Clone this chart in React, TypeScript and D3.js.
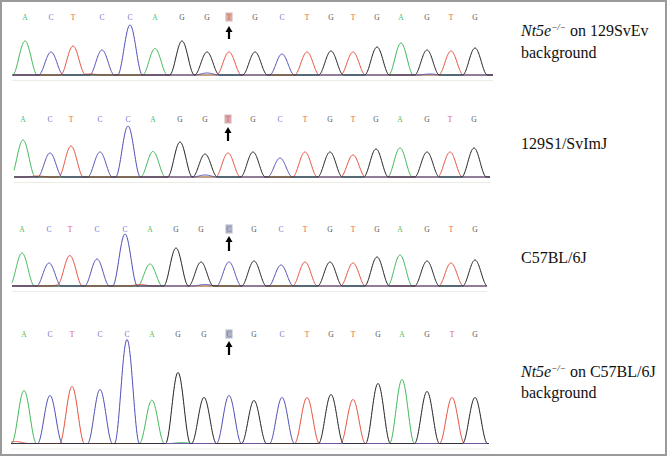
import React from 'react';
import * as d3 from 'd3';

// ---- data ----
const SEQ_MUT = ['A','C','T','C','C','A','G','G','T','G','C','T','G','T','G','A','G','T','G'];
const SEQ_WT  = ['A','C','T','C','C','A','G','G','C','G','C','T','G','T','G','A','G','T','G'];
const SNP_INDEX = 8;

// scan positions of each called base
const POS_1 = [25,51,73,102,130,155,182,207,229,255,282,307,331,353,377,401,427,451,475];
const POS_2 = [23,50,71,100,128,153,180,205,228,253,280,305,330,353,376,400,427,450,474];
const POS_3 = [22,49,70,97,125,150,176,201,229,254,281,305,330,353,377,400,427,451,475];
const POS_4 = [24,50,72,100,127,152,178,204,229,254,282,307,331,353,378,402,427,452,475];

// peak signal intensities
const H_1 = [34,23,29,25,50,25,34,23,23,23,21,23,24,23,28,32,25,24,27];
const H_2 = [37,24,31,25,51,24,35,23,24,25,19,25,25,22,28,29,25,25,29];
const H_3 = [33,23,30,27,52,21,38,24,24,25,21,24,24,23,29,31,25,23,26];
const H_4 = [53,48,57,54,104,41,71,46,48,43,46,46,49,44,60,64,52,46,46];

// small background signal bumps: [base, scan, intensity]
const MINOR_1: [string, number, number][] = [['C',207,2],['A',155,1.5],['T',90,1],['C',430,1]];
const MINOR_2: [string, number, number][] = [['C',205,2],['A',153,1.5],['T',38,1]];
const MINOR_3: [string, number, number][] = [['T',62,1.5],['A',150,1],['T',140,1.5],['C',205,1.5]];
const MINOR_4: [string, number, number][] = [['A',150,2.5],['T',16,2],['A',182,1]];

const LABEL_1 = ['Nt5e', '−/−', ' on 129SvEv', 'background'];
const LABEL_2 = ['129S1/SvImJ'];
const LABEL_3 = ['C57BL/6J'];
const LABEL_4 = ['Nt5e', '−/−', ' on C57BL/6J', 'background'];

const COLORS: Record<string, string> = { A: '#3fb95a', C: '#4f4fb8', G: '#222222', T: '#e8503c' };
const LETTER_COLORS: Record<string, string> = { A: '#4dbb5f', C: '#7373c8', G: '#555555', T: '#e05a4a' };
const HILITE: Record<string, string> = { T: '#d4b0b0', C: '#b0b5c3' };

interface Panel {
  seq: string[]; pos: number[]; h: number[]; minor: [string, number, number][];
  label: string[]; base: number; letterY: number; arrow: [number, number];
  trace: [number, number]; labelY: number[];
}

const PANELS: Panel[] = [
  { seq: SEQ_MUT, pos: POS_1, h: H_1, minor: MINOR_1, label: LABEL_1, base: 75, letterY: 20, arrow: [26, 39], trace: [12.5, 493], labelY: [36, 58] },
  { seq: SEQ_MUT, pos: POS_2, h: H_2, minor: MINOR_2, label: LABEL_2, base: 177, letterY: 122, arrow: [127, 141], trace: [14, 490], labelY: [149] },
  { seq: SEQ_WT, pos: POS_3, h: H_3, minor: MINOR_3, label: LABEL_3, base: 286, letterY: 232, arrow: [236, 251], trace: [12, 487], labelY: [263] },
  { seq: SEQ_WT, pos: POS_4, h: H_4, minor: MINOR_4, label: LABEL_4, base: 443.5, letterY: 337, arrow: [341, 355], trace: [11, 489], labelY: [377, 398] },
];

const HALF = 12.5;
const shape = (d: number) => (Math.abs(d) >= HALF ? 0 : Math.pow(Math.cos((Math.PI * d) / (2 * HALF)), 2));

function traces(p: Panel) {
  const x = d3.scaleLinear().domain([0, 668]).range([0, 668]);
  const y = d3.scaleLinear().domain([0, 100]).range([p.base, p.base - 100]);
  const order = ['A', 'T', 'C', 'G'];
  const scans = d3.range(p.trace[0], p.trace[1] + 0.01, 0.5);
  return order.map((ch) => {
    const peaks: [number, number][] = [];
    p.seq.forEach((b, i) => { if (b === ch) peaks.push([p.pos[i], p.h[i]]); });
    p.minor.forEach(([b, s, v]) => { if (b === ch) peaks.push([s, v]); });
    const pts = scans.map((s) => [s, d3.sum(peaks, ([c, v]) => v * shape(s - c))] as [number, number]);
    const line = d3.line<[number, number]>().x((d) => x(d[0])).y((d) => y(d[1]));
    return { ch, d: line(pts) as string, x };
  });
}

function PanelView({ p }: { p: Panel }) {
  const tr = traces(p);
  const x = tr[0].x;
  const [a0, a1] = p.arrow;
  const ax = x(p.pos[SNP_INDEX]);
  return (
    <g>
      <line x1={p.trace[0]} x2={p.trace[1]} y1={p.base + 5.5} y2={p.base + 5.5} stroke="#ecebe4" strokeWidth={1} />
      {p.seq.map((b, i) => (
        <g key={i}>
          {i === SNP_INDEX && (
            <rect x={x(p.pos[i]) - 3.5} y={p.letterY - 7.5} width={7} height={9} fill={HILITE[b]} />
          )}
          <text x={x(p.pos[i])} y={p.letterY} textAnchor="middle" fontFamily="'Liberation Serif', serif"
            fontSize={7.5} fill={LETTER_COLORS[b]}>{b}</text>
        </g>
      ))}
      <line x1={ax} x2={ax} y1={a0 + 5} y2={a1} stroke="#000" strokeWidth={2.2} />
      <path d={`M${ax - 3.5},${a0 + 6} L${ax},${a0} L${ax + 3.5},${a0 + 6} Z`} fill="#000" />
      {tr.map((t) => (
        <path key={t.ch} d={t.d} fill="none" stroke={COLORS[t.ch]} strokeWidth={1} strokeLinejoin="round" />
      ))}
      {p.label.length === 1 ? (
        <text x={521} y={p.labelY[0]} fontFamily="'Liberation Serif', serif" fontSize={16} fill="#111">{p.label[0]}</text>
      ) : (
        <>
          <text x={521} y={p.labelY[0]} fontFamily="'Liberation Serif', serif" fontSize={16} fill="#111">
            <tspan fontStyle="italic">{p.label[0]}</tspan>
            <tspan fontStyle="italic" fontSize={9} dy={-6}>{p.label[1]}</tspan>
            <tspan dy={6}>{p.label[2]}</tspan>
          </text>
          <text x={521} y={p.labelY[1]} fontFamily="'Liberation Serif', serif" fontSize={16} fill="#111">{p.label[3]}</text>
        </>
      )}
    </g>
  );
}

export default function App() {
  return (
    <svg width={668} height={457} style={{ position: 'absolute', left: 0, top: 0, background: '#fff' }}>
      <rect x={0} y={0} width={668} height={457} fill="#fff" />
      <rect x={1} y={1} width={665} height={454} fill="none" stroke="#9a9a9a" strokeWidth={2} />
      {PANELS.map((p, i) => <PanelView key={i} p={p} />)}
    </svg>
  );
}
